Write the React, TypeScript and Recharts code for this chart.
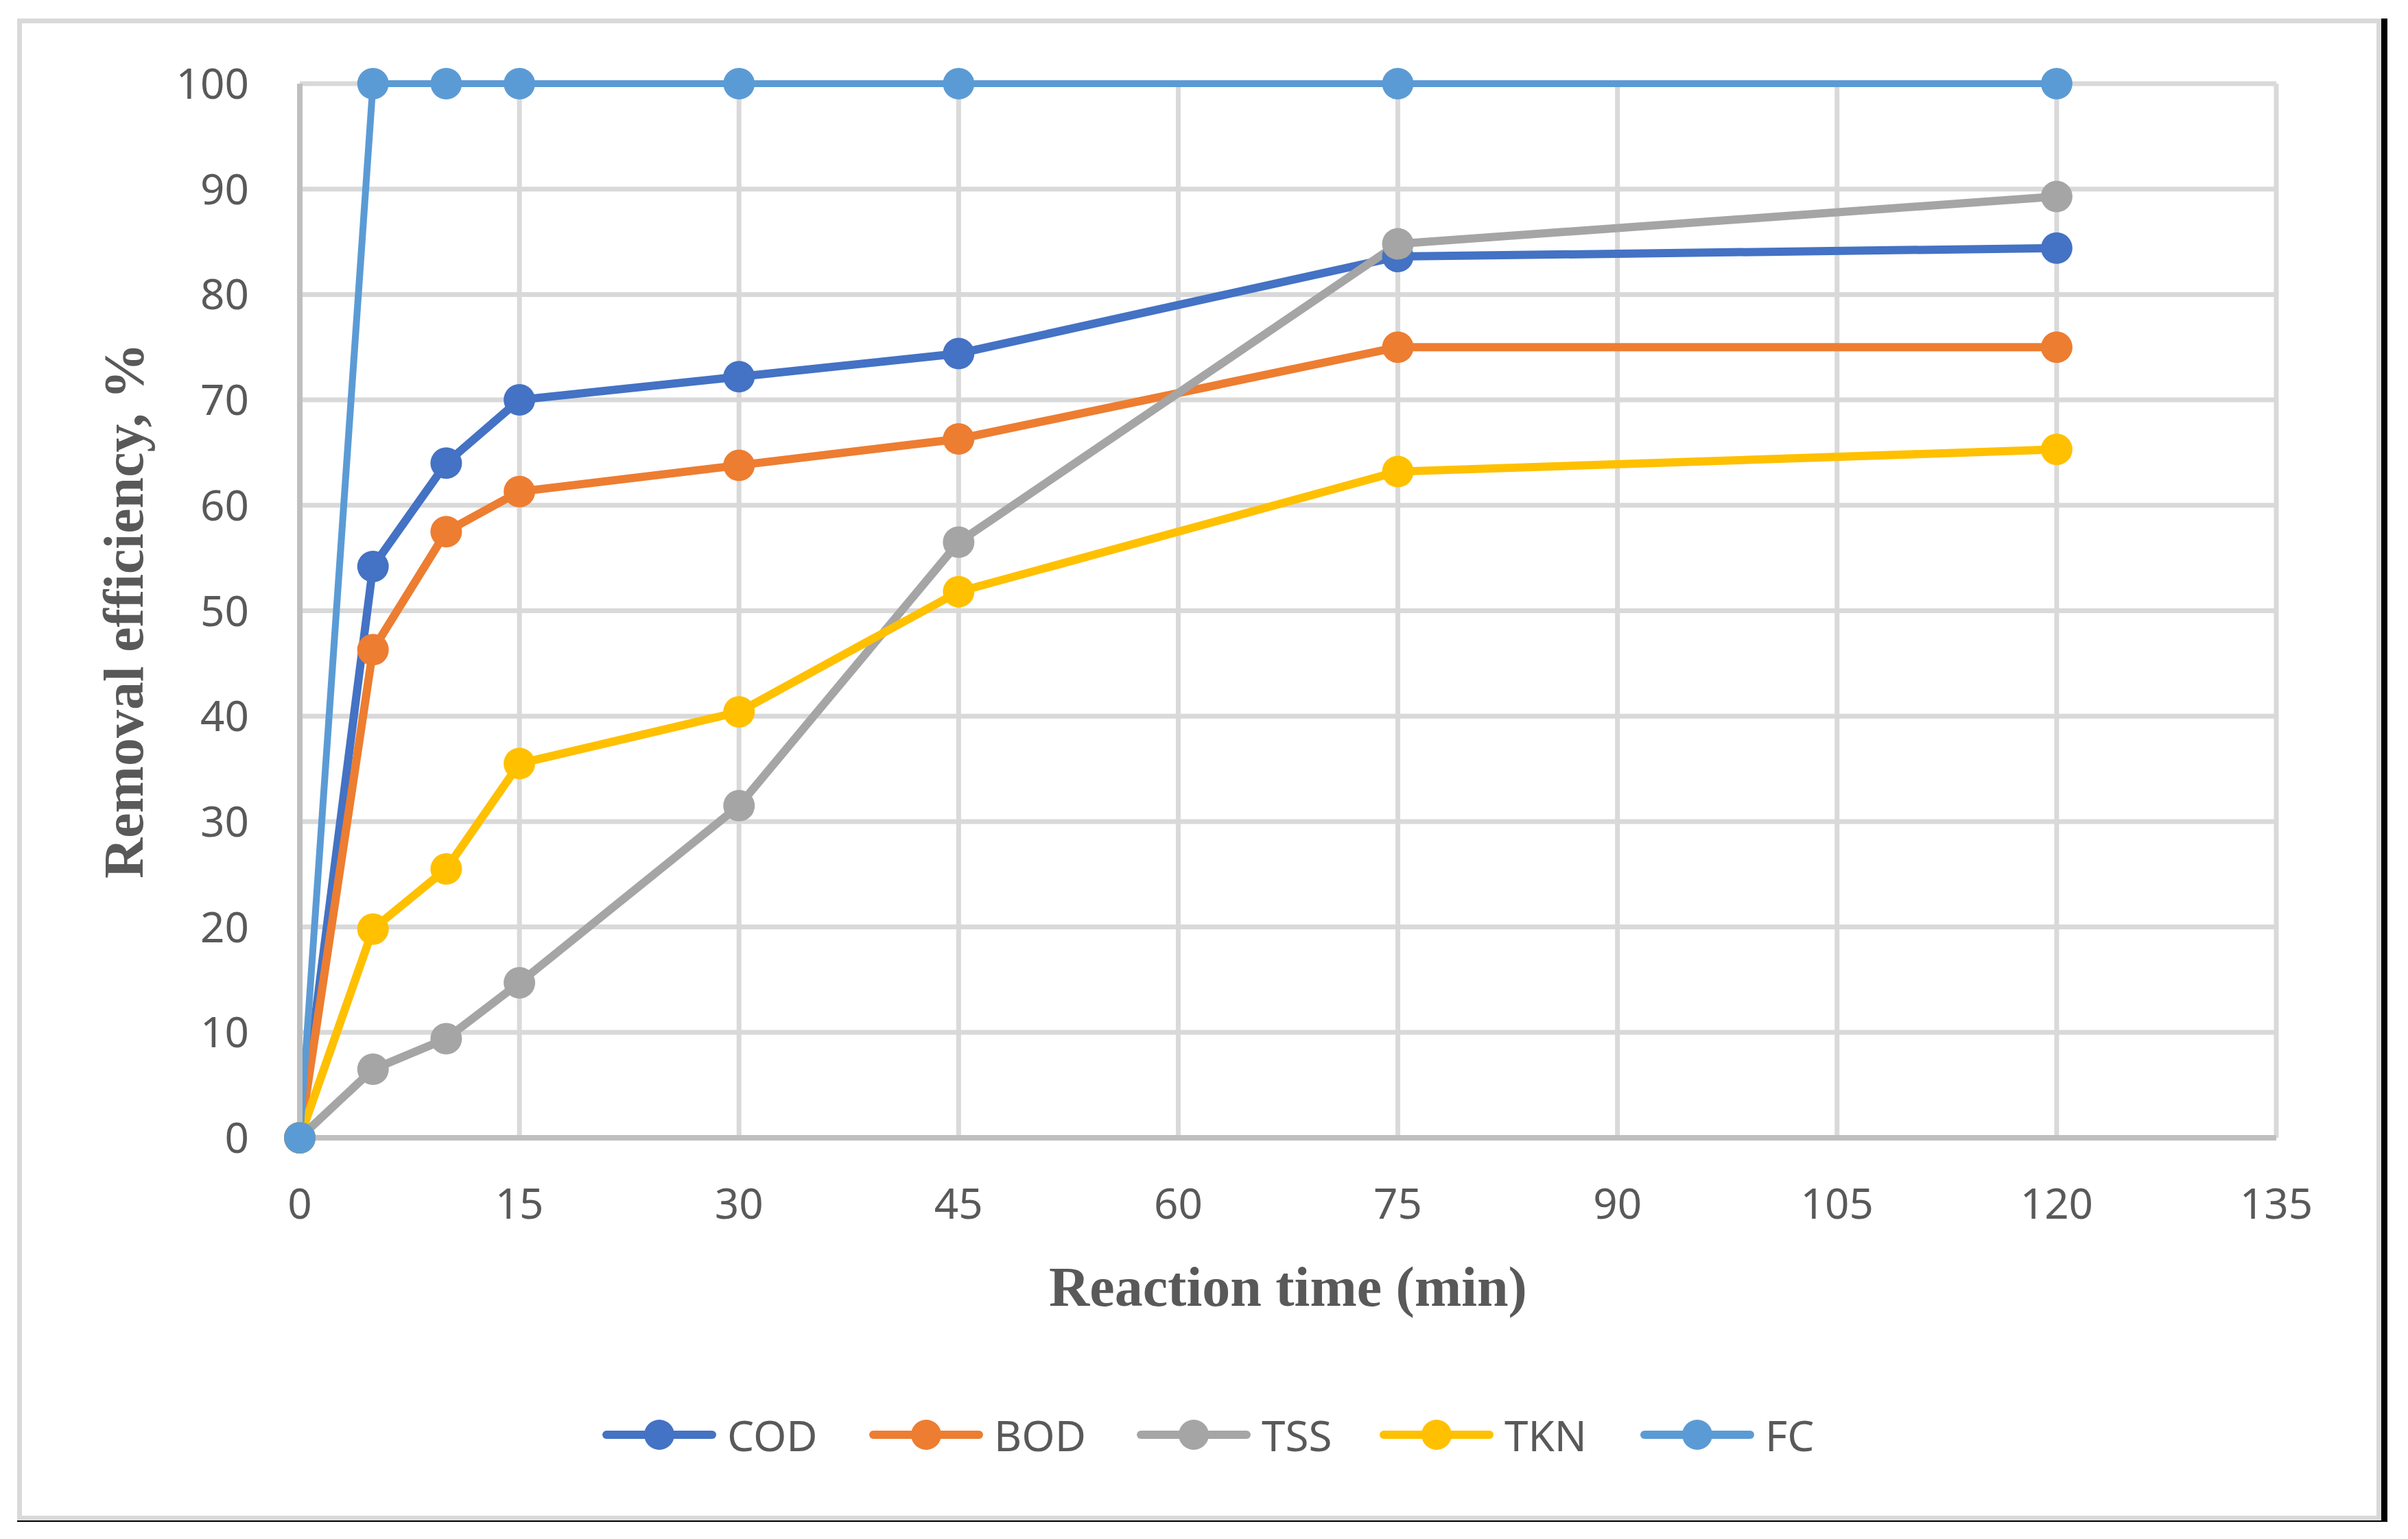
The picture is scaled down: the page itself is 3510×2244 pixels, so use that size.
import React from "react";
import { LineChart, Line, CartesianGrid, XAxis, YAxis, Legend } from "recharts";

const times = [0, 5, 10, 15, 30, 45, 75, 120];
const cod = [0, 54.2, 64.0, 70.0, 72.2, 74.4, 83.6, 84.4];
const bod = [0, 46.3, 57.5, 61.3, 63.8, 66.3, 75.0, 75.0];
const tss = [0, 6.5, 9.4, 14.7, 31.5, 56.5, 84.8, 89.3];
const tkn = [0, 19.8, 25.5, 35.5, 40.4, 51.8, 63.2, 65.3];
const fc = [0, 100, 100, 100, 100, 100, 100, 100];

const xTicks = [0, 15, 30, 45, 60, 75, 90, 105, 120, 135];
const yTicks = [0, 10, 20, 30, 40, 50, 60, 70, 80, 90, 100];

const seriesNames = ["COD", "BOD", "TSS", "TKN", "FC"];
const seriesColors = ["#4472C4", "#ED7D31", "#A5A5A5", "#FFC000", "#5B9BD5"];
const seriesWidths = [12, 12, 12, 12, 10];

// legend slot widths (px) so the entries sit where Excel put them
const legendSlots = [389, 390, 354, 380, 260];

const data = times.map((t, i) => ({
  t,
  COD: cod[i],
  BOD: bod[i],
  TSS: tss[i],
  TKN: tkn[i],
  FC: fc[i],
}));

const TICK_FONT = "'Liberation Sans Narrow', 'Noto Sans', sans-serif";
const TITLE_FONT = "'Liberation Serif', 'Times New Roman', serif";
const TEXT_GREY = "#595959";

const XTitle = (props: any) => {
  const vb = props.viewBox;
  return (
    <text
      x={vb.x + vb.width / 2}
      y={vb.y + 245}
      textAnchor="middle"
      fontFamily={TITLE_FONT}
      fontWeight="bold"
      fontSize={82}
      fill={TEXT_GREY}
    >
      Reaction time (min)
    </text>
  );
};

const YTitle = (props: any) => {
  const vb = props.viewBox;
  const cx = 180;
  const cy = vb.y + vb.height / 2;
  return (
    <text
      x={cx}
      y={cy}
      transform={`rotate(-90 ${cx} ${cy})`}
      textAnchor="middle"
      dominantBaseline="central"
      fontFamily={TITLE_FONT}
      fontWeight="bold"
      fontSize={82}
      fill={TEXT_GREY}
    >
      Removal efficiency, %
    </text>
  );
};

const LegendBox = () => (
  <div style={{ display: "flex", alignItems: "center" }}>
    {seriesNames.map((name, i) => (
      <div key={name} style={{ display: "flex", alignItems: "center", width: legendSlots[i] }}>
        <svg width={166} height={50}>
          <line x1={6} y1={25} x2={160} y2={25} stroke={seriesColors[i]} strokeWidth={12} strokeLinecap="round" />
          <circle cx={83} cy={25} r={22} fill={seriesColors[i]} />
        </svg>
        <span
          style={{
            marginLeft: 16,
            fontFamily: TICK_FONT,
            fontSize: 62,
            color: TEXT_GREY,
            lineHeight: 1,
          }}
        >
          {name}
        </span>
      </div>
    ))}
  </div>
);

export default function App() {
  return (
    <div style={{ position: "absolute", left: 0, top: 0, width: 3510, height: 2244, background: "#fff" }}>
      <div
        style={{
          position: "absolute",
          left: 25,
          top: 27,
          width: 3455,
          height: 2192,
          borderRight: "9px solid #000",
          borderBottom: "2px solid #000",
          boxSizing: "border-box",
        }}
      />
      <div
        style={{
          position: "absolute",
          left: 25,
          top: 27,
          width: 3446,
          height: 2190,
          border: "7px solid #d9d9d9",
          boxSizing: "border-box",
        }}
      />
      <div style={{ position: "absolute", left: 0, top: 0 }}>
        <LineChart
          width={3510}
          height={2244}
          data={data}
          margin={{ top: 122, right: 192, left: 0, bottom: 285 }}
        >
          <CartesianGrid stroke="#d9d9d9" strokeWidth={7} />
          <XAxis
            dataKey="t"
            type="number"
            domain={[0, 135]}
            ticks={xTicks}
            height={300}
            axisLine={{ stroke: "#bfbfbf", strokeWidth: 8 }}
            tickLine={false}
            tickSize={0}
            tickMargin={74}
            tick={{ fontSize: 62, fill: TEXT_GREY, fontFamily: TICK_FONT }}
            label={<XTitle />}
          />
          <YAxis
            type="number"
            domain={[0, 100]}
            ticks={yTicks}
            width={437}
            axisLine={{ stroke: "#bfbfbf", strokeWidth: 8 }}
            tickLine={false}
            tickSize={0}
            tickMargin={74}
            tick={{ fontSize: 62, fill: TEXT_GREY, fontFamily: TICK_FONT }}
            label={<YTitle />}
          />
          <Legend
            layout="horizontal"
            verticalAlign="middle"
            align="center"
            content={<LegendBox />}
            wrapperStyle={{ top: 2061, left: 878, width: "auto" }}
          />
          {seriesNames.map((name, i) => (
            <Line
              key={name}
              type="linear"
              dataKey={name}
              stroke={seriesColors[i]}
              strokeWidth={seriesWidths[i]}
              dot={{ r: 23, fill: seriesColors[i], stroke: seriesColors[i], strokeWidth: 0 }}
              activeDot={false}
              isAnimationActive={false}
            />
          ))}
        </LineChart>
      </div>
    </div>
  );
}
